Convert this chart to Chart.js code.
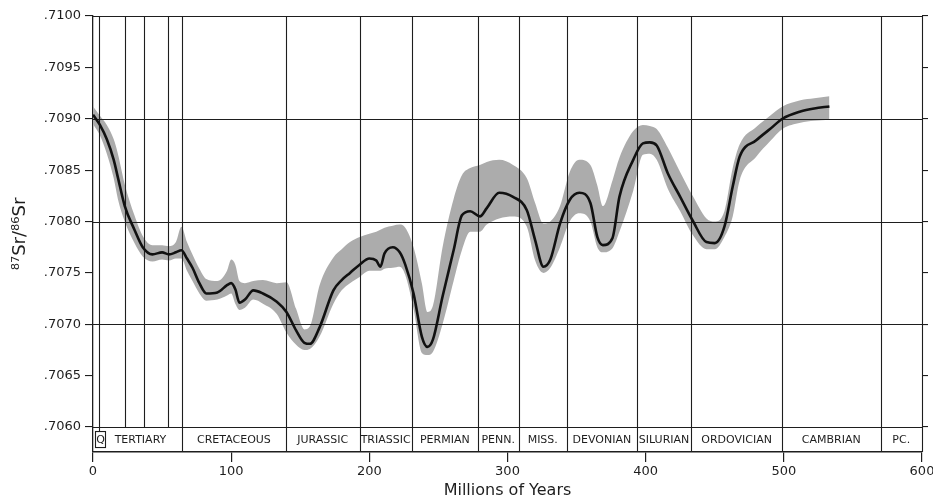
<!DOCTYPE html>
<html>
<head>
<meta charset="utf-8">
<script src="https://cdn.jsdelivr.net/npm/chart.js@4.4.0/dist/chart.umd.min.js"></script>
<style>
  html, body { margin: 0; padding: 0; background: #fff; }
  #wrap { width: 933px; height: 501px; }
</style>
</head>
<body>
<div id="wrap"><canvas id="srChart" width="933" height="501"></canvas></div>
<script>
// age in Ma
const ages = [0, 5, 10, 15, 18, 23, 30, 36, 43, 50, 55, 60, 64, 68, 72, 77, 82, 90, 97, 100, 103, 106, 110, 116, 123, 133, 140, 147, 153, 157, 164, 174, 180, 186, 193, 200, 205, 208, 211, 217, 222, 226, 232, 238, 242, 246, 253, 261, 267, 273, 280, 285, 294, 304, 314, 320, 326, 331, 338, 345, 352, 360, 365, 369, 376, 381, 391, 398, 403, 408, 416, 425, 434, 444, 450, 457, 463, 468, 480, 490, 499, 512, 522, 533];

const srRatio = [0.70904, 0.70894, 0.70880, 0.70860, 0.70843, 0.70815, 0.70792, 0.70775, 0.70768, 0.70770, 0.70768, 0.70770, 0.70772, 0.70764, 0.70755, 0.70740, 0.70730, 0.70731, 0.70738, 0.70740, 0.70734, 0.70721, 0.70724, 0.70733, 0.70730, 0.70722, 0.70712, 0.70694, 0.70682, 0.70681, 0.70697, 0.70733, 0.70743, 0.70750, 0.70758, 0.70764, 0.70762, 0.70756, 0.70769, 0.70775, 0.70770, 0.70758, 0.70730, 0.70688, 0.70678, 0.70685, 0.70727, 0.70772, 0.70806, 0.70810, 0.70805, 0.70813, 0.70828, 0.70824, 0.70811, 0.70782, 0.70756, 0.70763, 0.70798, 0.70821, 0.70828, 0.70818, 0.70785, 0.70777, 0.70784, 0.70824, 0.70860, 0.70876, 0.70877, 0.70874, 0.70847, 0.70824, 0.70801, 0.70780, 0.70779, 0.70795, 0.70834, 0.70863, 0.70879, 0.70890, 0.70900, 0.70907, 0.70910, 0.70912];

// shaded uncertainty band
const bandUpper = [0.70912, 0.70903, 0.70894, 0.70880, 0.70866, 0.70836, 0.70806, 0.70786, 0.70777, 0.70777, 0.70776, 0.70780, 0.70795, 0.70780, 0.70768, 0.70754, 0.70744, 0.70742, 0.70752, 0.70763, 0.70758, 0.70742, 0.70740, 0.70742, 0.70743, 0.70740, 0.70741, 0.70715, 0.70695, 0.70698, 0.70738, 0.70765, 0.70773, 0.70780, 0.70785, 0.70788, 0.70790, 0.70792, 0.70794, 0.70796, 0.70797, 0.70794, 0.70775, 0.70740, 0.70712, 0.70718, 0.70775, 0.70822, 0.70845, 0.70852, 0.70855, 0.70858, 0.70860, 0.70855, 0.70842, 0.70818, 0.70798, 0.70800, 0.70815, 0.70848, 0.70860, 0.70855, 0.70835, 0.70815, 0.70840, 0.70862, 0.70888, 0.70894, 0.70893, 0.70890, 0.70872, 0.70848, 0.70825, 0.70803, 0.70800, 0.70810, 0.70852, 0.70875, 0.70892, 0.70903, 0.70912, 0.70918, 0.70920, 0.70922];

const bandLower = [0.70895, 0.70884, 0.70866, 0.70842, 0.70822, 0.70800, 0.70779, 0.70766, 0.70761, 0.70763, 0.70762, 0.70764, 0.70764, 0.70752, 0.70742, 0.70730, 0.70723, 0.70724, 0.70728, 0.70730, 0.70720, 0.70714, 0.70716, 0.70724, 0.70720, 0.70710, 0.70692, 0.70680, 0.70675, 0.70676, 0.70688, 0.70720, 0.70733, 0.70740, 0.70746, 0.70752, 0.70752, 0.70752, 0.70754, 0.70755, 0.70756, 0.70748, 0.70715, 0.70672, 0.70670, 0.70673, 0.70700, 0.70742, 0.70772, 0.70790, 0.70790, 0.70797, 0.70803, 0.70805, 0.70795, 0.70762, 0.70750, 0.70755, 0.70775, 0.70800, 0.70808, 0.70800, 0.70775, 0.70770, 0.70774, 0.70790, 0.70830, 0.70865, 0.70866, 0.70860, 0.70832, 0.70810, 0.70787, 0.70773, 0.70773, 0.70785, 0.70805, 0.70840, 0.70863, 0.70878, 0.70890, 0.70896, 0.70898, 0.70899];

const yTicks = [0.7060, 0.7065, 0.7070, 0.7075, 0.7080, 0.7085, 0.7090, 0.7095, 0.7100];
const xTicks = [0, 100, 200, 300, 400, 500, 600];

// geologic periods (Ma)
const periodNames = ['Q', 'TERTIARY', 'CRETACEOUS', 'JURASSIC', 'TRIASSIC', 'PERMIAN', 'PENN.', 'MISS.', 'DEVONIAN', 'SILURIAN', 'ORDOVICIAN', 'CAMBRIAN', 'PC.'];
const periodBounds = [0, 4.3, 64.4, 139.6, 193, 230.6, 278.6, 308, 343, 393.6, 433, 498.6, 570, 600];
const epochLines = [23, 37, 54.5];

const INK = '#1e1e1e';
Chart.defaults.font.family = "'DejaVu Sans', sans-serif";
Chart.defaults.color = INK;

const setTicks = (list) => (scale) => { scale.ticks = list.map(v => ({ value: v })); };
const isMajor = (v) => Math.round(v * 10000) % 10 === 0;

// rules, period lines and name strip under the .7060 line, drawn after the band fill
const geoStrip = {
    id: 'geoStrip',
    beforeDatasetsDraw(chart) {
        const { ctx, chartArea, scales } = chart;
        const x = scales.x, y = scales.y;
        const top = chartArea.top, bottom = chartArea.bottom;
        const stripTop = y.getPixelForValue(0.7060);
        ctx.save();
        ctx.strokeStyle = INK;
        ctx.lineWidth = 1.1;
        yTicks.filter(isMajor).forEach(v => {
            const py = Math.round(y.getPixelForValue(v)) + 0.5;
            ctx.beginPath(); ctx.moveTo(chartArea.left, py); ctx.lineTo(chartArea.right, py); ctx.stroke();
        });
        const vline = (ma, y0, y1) => {
            const px = Math.round(x.getPixelForValue(ma)) + 0.5;
            ctx.beginPath(); ctx.moveTo(px, y0); ctx.lineTo(px, y1); ctx.stroke();
        };
        periodBounds.slice(2, -1).forEach(b => vline(b, top, bottom));
        vline(600, top, bottom);
        epochLines.forEach(b => vline(b, top, stripTop));
        vline(periodBounds[1], top, stripTop + 4);
        // little Q box
        const qx0 = Math.round(x.getPixelForValue(1.5)) + 0.5;
        const qx1 = Math.round(x.getPixelForValue(9)) + 0.5;
        ctx.strokeRect(qx0, stripTop + 4.5, qx1 - qx0, 16);
        ctx.fillStyle = INK;
        ctx.font = "11px 'DejaVu Sans', sans-serif";
        ctx.textAlign = 'center';
        ctx.textBaseline = 'middle';
        const midY = (stripTop + bottom) / 2 + 1;
        periodNames.forEach((name, i) => {
            if (i === 0) {
                ctx.fillText(name, (qx0 + qx1) / 2, stripTop + 13);
                return;
            }
            const cx = (x.getPixelForValue(periodBounds[i]) + x.getPixelForValue(periodBounds[i + 1])) / 2;
            ctx.fillText(name, cx, midY);
        });
        ctx.restore();
    }
};

const ctx = document.getElementById('srChart').getContext('2d');
new Chart(ctx, {
    type: 'line',
    data: {
        datasets: [
            {
                label: 'Sr ratio',
                data: ages.map((a, i) => ({ x: a, y: srRatio[i] })),
                borderColor: '#111',
                borderWidth: 2.6,
                pointRadius: 0,
                cubicInterpolationMode: 'monotone',
                fill: false,
            },
            {
                label: 'upper',
                data: ages.map((a, i) => ({ x: a, y: bandUpper[i] })),
                borderWidth: 0,
                borderColor: 'rgba(0,0,0,0)',
                backgroundColor: '#acacac',
                pointRadius: 0,
                cubicInterpolationMode: 'monotone',
                fill: '+1',
            },
            {
                label: 'lower',
                data: ages.map((a, i) => ({ x: a, y: bandLower[i] })),
                borderWidth: 0,
                borderColor: 'rgba(0,0,0,0)',
                pointRadius: 0,
                cubicInterpolationMode: 'monotone',
                fill: false,
            },
        ],
    },
    options: {
        responsive: false,
        animation: false,
        devicePixelRatio: 1,
        layout: { padding: { left: 0, right: 0, top: 16, bottom: 0 } },
        plugins: {
            legend: { display: false },
            tooltip: { enabled: false },
            filler: { drawTime: 'beforeDatasetsDraw' },
        },
        scales: {
            x: {
                type: 'linear',
                min: 0,
                max: 600,
                afterBuildTicks: setTicks(xTicks),
                afterFit: (s) => { s.height = 49; s.paddingLeft = 0; s.paddingRight = 0; },
                grid: { drawOnChartArea: false, tickLength: 10, color: INK, lineWidth: 1.2 },
                border: { display: true, color: INK, width: 1.4 },
                ticks: { font: { size: 13 }, padding: 2, maxRotation: 0 },
                title: { display: true, text: 'Millions of Years', font: { size: 16 }, padding: { top: 0, bottom: 1 } },
            },
            y: {
                type: 'linear',
                min: 0.705757,
                max: 0.7100,
                afterBuildTicks: setTicks(yTicks),
                afterFit: (s) => { s.width = 93; },
                grid: { drawOnChartArea: false, color: INK, tickLength: 8, lineWidth: 1.1 },
                border: { display: true, color: INK, width: 1.3 },
                ticks: { font: { size: 13 }, padding: 4, callback: (v) => v.toFixed(4).replace(/^0/, '') },
                title: { display: true, text: '⁸⁷Sr/⁸⁶Sr', font: { size: 18 }, padding: { top: 10, bottom: 0 } },
            },
            y2: {
                type: 'linear',
                position: 'right',
                min: 0.705757,
                max: 0.7100,
                afterBuildTicks: setTicks(yTicks),
                afterFit: (s) => { s.width = 11; },
                grid: { drawOnChartArea: false, color: INK, tickLength: 6, lineWidth: 1.1 },
                border: { display: false },
                ticks: { display: false },
            },
        },
    },
    plugins: [geoStrip],
});
</script>
</body>
</html>
